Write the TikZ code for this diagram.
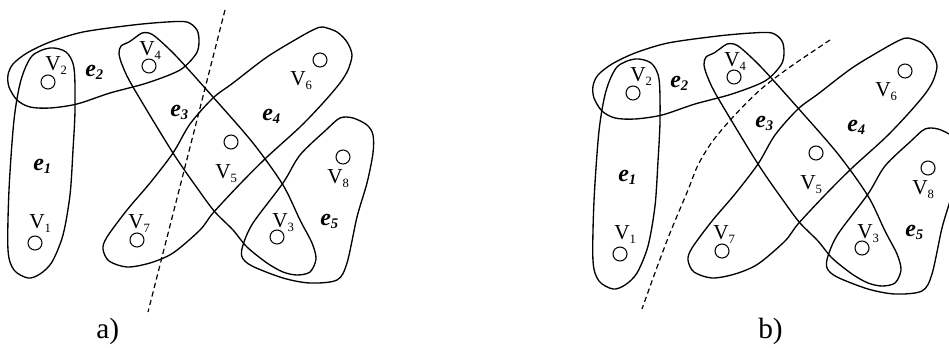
\documentclass[tikz,border=0pt]{standalone}
\usepackage{fontspec}
\setmainfont{Liberation Serif}
\newcommand\vsub[1]{\raisebox{-3pt}{\fontsize{9.5}{10}\selectfont #1}}
\newcommand\esub[1]{\raisebox{-2.5pt}{\fontsize{11}{11}\selectfont\bfseries\itshape #1}}
\tikzset{
  vtx/.style={circle,draw,line width=0.8pt,minimum size=10.5pt,inner sep=0pt},
  vlab/.style={anchor=base west,inner sep=0pt,font=\fontsize{16}{18}\selectfont},
  elab/.style={anchor=base west,inner sep=0pt,font=\fontsize{18}{20}\selectfont\bfseries\itshape},
  plab/.style={anchor=base west,inner sep=0pt,font=\fontsize{22}{24}\selectfont},
  hedge/.style={line width=1pt},
  cutline/.style={line width=0.9pt,dash pattern=on 4pt off 2.6pt}
}
\newcommand\drawhg[1]{%
  % hyperedges
  \draw[hedge] plot[smooth cycle] coordinates {(50,48) (66,52) (74,68) (75,110) (73,150) (70,195) (63,235) (52,262) (40,274) (28,278) (14,270) (8,250) (9,190) (14,120) (21,80) (32,56)};
  \draw[hedge] plot[smooth cycle] coordinates {(8,75) (13,64) (27,53) (50,42) (83,32) (133,25) (167,22) (187,22) (197,30) (199,42) (196,54) (180,70) (147,83) (110,93) (77,104) (50,108) (30,107) (17,100) (9,87)};
  \draw[hedge] plot[smooth cycle] coordinates {(121,46) (129,42) (136,37) (142,33) (149,33) (157,38) (177,57) (213,97) (253,143) (283,185) (300,220) (312,243) (316,259) (310,272) (297,275) (283,272) (267,263) (247,247) (233,230) (215,212) (200,192) (173,153) (133,87) (123,67) (119,54)};
  \draw[hedge] plot[smooth cycle] coordinates {(323,27) (337,32) (347,42) (352,55) (348,70) (340,83) (323,103) (300,127) (267,157) (240,184) (213,213) (200,230) (173,253) (150,263) (127,267) (109,261) (103,249) (107,237) (127,210) (150,183) (173,153) (190,124) (213,98) (233,83) (267,57) (300,37) (315,29)};
  \draw[hedge] plot[smooth cycle] coordinates {(340,118) (353,118) (367,125) (373,135) (373,153) (367,183) (357,217) (347,263) (337,280) (310,283) (283,278) (252,266) (242,257) (243,245) (253,223) (283,183) (300,155) (326,130)};
  % vertices
  \node[vtx] (#1v1) at (35,243) {};
  \node[vtx] (#1v2) at (48,82) {};
  \node[vtx] (#1v3) at (277,237) {};
  \node[vtx] (#1v4) at (149,66) {};
  \node[vtx] (#1v5) at (231,142) {};
  \node[vtx] (#1v6) at (320,60) {};
  \node[vtx] (#1v7) at (137,240) {};
  \node[vtx] (#1v8) at (343,157) {};
  % vertex labels
  \node[vlab] (#1l1) at (29,228) {V\vsub{1}};
  \node[vlab] (#1l2) at (45,70) {V\vsub{2}};
  \node[vlab] (#1l3) at (272,227) {V\vsub{3}};
  \node[vlab] (#1l4) at (139,55) {V\vsub{4}};
  \node[vlab] (#1l5) at (215,178) {V\vsub{5}};
  \node[vlab] (#1l6) at (290,85) {V\vsub{6}};
  \node[vlab] (#1l7) at (128,228) {V\vsub{7}};
  \node[vlab] (#1l8) at (327,183) {V\vsub{8}};
  % hyperedge labels
  \node[elab] (#1e1) at (33,170) {e\esub{1}};
  \node[elab] (#1e2) at (85,76) {e\esub{2}};
  \node[elab] (#1e3) at (170,116) {e\esub{3}};
  \node[elab] (#1e4) at (262,120) {e\esub{4}};
  \node[elab] (#1e5) at (320,225) {e\esub{5}};
}
\begin{document}
\begin{tikzpicture}[x=0.75pt,y=-0.75pt]
\useasboundingbox (0,0) rectangle (949,347);
% panel a
\drawhg{a}
\coordinate (acut1) at (225,10);
\coordinate (acut2) at (148,312);
\draw[cutline] (acut1) -- (acut2);
\node[plab] (alab) at (96,338) {a)};
% panel b
\begin{scope}[shift={(585,11)}]
\drawhg{b}
\end{scope}
\draw[cutline] plot[smooth] coordinates {(830,40) (790,67) (760,90) (733,117) (712,142) (698,165) (688,190) (670,233) (656,270) (642,309)};
\node[plab] (blab) at (758,338) {b)};
\end{tikzpicture}
\end{document}
